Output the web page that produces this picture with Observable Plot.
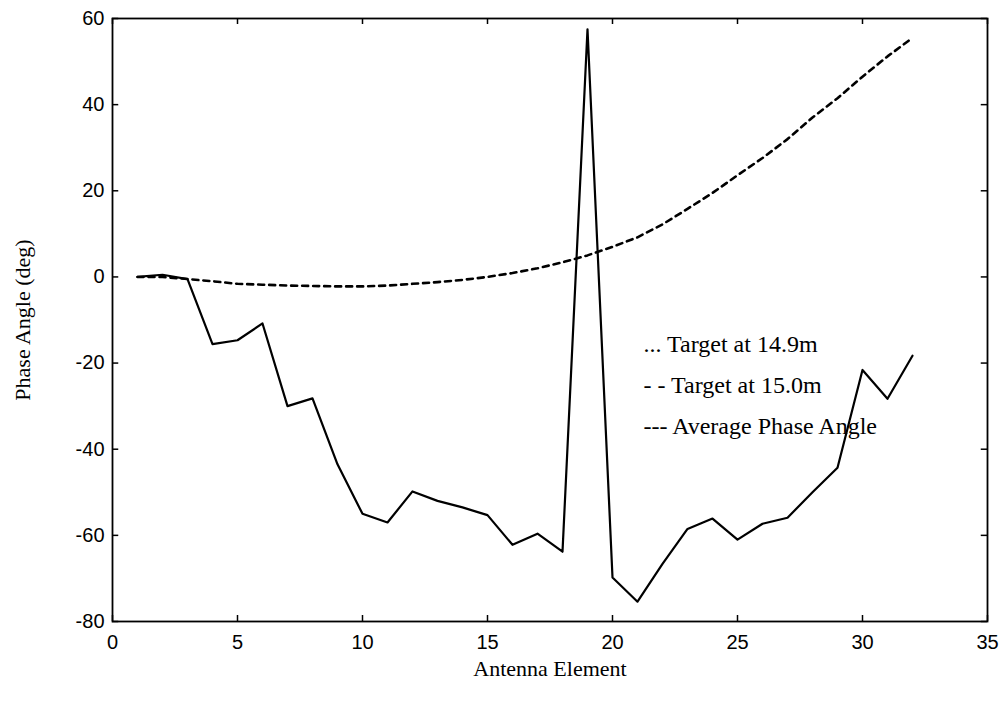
<!DOCTYPE html>
<html>
<head>
<meta charset="utf-8">
<script src="https://cdn.jsdelivr.net/npm/d3@7"></script>
<script src="https://cdn.jsdelivr.net/npm/@observablehq/plot@0.6"></script>
<style>
  html, body { margin: 0; padding: 0; background: #fff; }
  #chart { width: 1003px; height: 713px; }
</style>
</head>
<body>
<div id="chart"></div>
<script>
// Antenna element index
const elements = [1,2,3,4,5,6,7,8,9,10,11,12,13,14,15,16,17,18,19,20,21,22,23,24,25,26,27,28,29,30,31,32];
// Measured phase angle (solid line), degrees
const measuredPhase = [0,0.5,-0.5,-15.6,-14.7,-10.8,-30,-28.2,-43.5,-55,-57,-49.8,-52,-53.5,-55.3,-62.2,-59.6,-63.8,57.5,-69.8,-75.4,-66.6,-58.5,-56.1,-61,-57.3,-55.9,-50,-44.3,-21.6,-28.3,-18.3];
// Average phase angle (dashed curve), degrees
const averagePhase = [0,0,-0.5,-1,-1.6,-1.8,-2,-2.1,-2.2,-2.2,-2,-1.6,-1.2,-0.7,0,0.9,2,3.4,5,7,9.2,12.2,15.8,19.5,23.6,27.6,32,37,41.5,46.5,51.2,55.5];

const xTicks = [0,5,10,15,20,25,30,35];
const yTicks = [-80,-60,-40,-20,0,20,40,60];
const legendLabels = ["... Target at 14.9m", "- - Target at 15.0m", "--- Average Phase Angle"];
const xTitle = "Antenna Element";
const yTitle = "Phase Angle (deg)";

const measured = elements.map((e, i) => ({element: e, phase: measuredPhase[i]}));
const average = elements.map((e, i) => ({element: e, phase: averagePhase[i]}));

const serif = "'Liberation Serif', 'Times New Roman', serif";
const sans = "'Liberation Sans', Arial, sans-serif";

const tickLenX = 0.25;  // inward tick length in x units
const tickLenY = 1.4;   // inward tick length in y units

const chart = Plot.plot({
  width: 1003,
  height: 713,
  marginLeft: 112,
  marginRight: 16,
  marginTop: 18,
  marginBottom: 92,
  style: {background: "#fff", color: "#000", fontFamily: sans},
  x: {domain: [0, 35]},
  y: {domain: [-80, 60]},
  marks: [
    Plot.frame({stroke: "#000", strokeWidth: 1.8}),
    // inward ticks on all four sides
    Plot.ruleY(yTicks, {y: d => d, x1: 0, x2: tickLenX, stroke: "#000", strokeWidth: 1.5}),
    Plot.ruleY(yTicks, {y: d => d, x1: 35 - tickLenX, x2: 35, stroke: "#000", strokeWidth: 1.5}),
    Plot.ruleX(xTicks, {x: d => d, y1: -80, y2: -80 + tickLenY, stroke: "#000", strokeWidth: 1.5}),
    Plot.ruleX(xTicks, {x: d => d, y1: 60 - tickLenY, y2: 60, stroke: "#000", strokeWidth: 1.5}),
    Plot.axisX({ticks: xTicks, tickSize: 0, tickPadding: 13, fontSize: 20, fontFamily: sans, label: null, tickFormat: d => String(d)}),
    Plot.axisY({ticks: yTicks, tickSize: 0, tickPadding: 8, fontSize: 20, fontFamily: sans, label: null, tickFormat: d => String(d)}),
    Plot.line(average, {x: "element", y: "phase", stroke: "#000", strokeWidth: 2.6, strokeDasharray: "6,5"}),
    Plot.line(measured, {x: "element", y: "phase", stroke: "#000", strokeWidth: 2.2}),
    Plot.text([legendLabels.join("\n")], {
      frameAnchor: "top-left", dx: 531, dy: 361, textAnchor: "start", lineAnchor: "middle",
      lineHeight: 1.71, fontSize: 24, fontFamily: serif, fill: "#000",
      style: {letterSpacing: "1.2px"}
    }),
    Plot.text([xTitle], {frameAnchor: "bottom", dy: 54, fontSize: 22, fontFamily: serif, fill: "#000", style: {letterSpacing: "1px"}}),
    Plot.text([yTitle], {frameAnchor: "left", textAnchor: "middle", dx: -90, rotate: -90, fontSize: 22, fontFamily: serif, fill: "#000", style: {letterSpacing: "1px"}})
  ]
});
document.getElementById("chart").appendChild(chart);
</script>
</body>
</html>
